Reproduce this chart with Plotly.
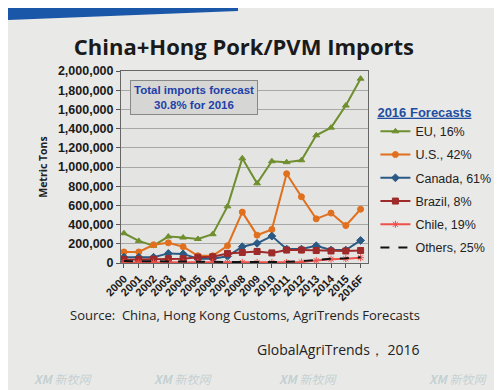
import plotly.graph_objects as go

years = ["2000", "2001", "2002", "2003", "2004", "2005", "2006", "2007", "2008",
         "2009", "2010", "2011", "2012", "2013", "2014", "2015", "2016F"]
eu = [310000, 230000, 180000, 275000, 265000, 250000, 300000, 590000, 1090000,
      830000, 1060000, 1050000, 1070000, 1330000, 1410000, 1640000, 1920000]
us = [115000, 115000, 190000, 210000, 170000, 75000, 75000, 180000, 530000,
      290000, 350000, 930000, 690000, 460000, 520000, 390000, 560000]
canada = [60000, 60000, 60000, 100000, 95000, 45000, 45000, 70000, 170000,
          205000, 280000, 145000, 145000, 180000, 135000, 135000, 235000]
brazil = [35000, 38000, 40000, 45000, 45000, 60000, 65000, 100000, 110000,
          120000, 105000, 135000, 135000, 130000, 125000, 125000, 130000]
chile = [5000, 5000, 5000, 5000, 5000, 5000, 5000, 5000, 5000,
         5000, 5000, 5000, 10000, 25000, 40000, 45000, 55000]
others = [20000, 18000, 15000, 15000, 15000, 12000, 12000, 12000, 10000,
          10000, 10000, 12000, 20000, 35000, 45000, 50000, 60000]

series = [
    ("EU, 16%", eu, "#6f8f2f", "triangle-up", "solid", 6),
    ("U.S., 42%", us, "#e0701e", "circle", "solid", 6),
    ("Canada, 61%", canada, "#2a5a84", "diamond", "solid", 6),
    ("Brazil, 8%", brazil, "#9e2a2a", "square", "solid", 6),
    ("Chile, 19%", chile, "#f0504a", "asterisk-open", "solid", 6),
    ("Others, 25%", others, "#111111", None, "dash", 0),
]

fig = go.Figure()
for i, (name, vals, col, sym, dash, ms) in enumerate(series):
    if sym:
        fig.add_trace(go.Scatter(x=years, y=vals, name=name, mode="lines+markers",
                                 legendgroup="g%d" % i,
                                 line=dict(color=col, width=2, dash=dash),
                                 marker=dict(symbol=sym, size=ms, color=col,
                                             line=dict(color=col, width=1))))
    else:
        fig.add_trace(go.Scatter(x=years, y=vals, name=name, mode="lines",
                                 legendgroup="g%d" % i,
                                 line=dict(color=col, width=2, dash=dash)))

font_main = "Open Sans, Liberation Sans, sans-serif"

fig.update_layout(
    width=502, height=390,
    margin=dict(l=113, r=142, t=63, b=135),
    paper_bgcolor="#e9e9e7",
    plot_bgcolor="#e4e4e2",
    font=dict(family=font_main, color="#222222"),
    title=dict(text="<b>China+Hong Pork/PVM Imports</b>", x=0.47, xanchor="center",
               y=0.9, yanchor="middle", font=dict(size=22, color="#1a1a1a")),
    showlegend=True,
    legend=dict(x=1.03, xanchor="left", y=0.85, yanchor="top",
                bgcolor="rgba(0,0,0,0)", font=dict(size=12.5, color="#222222",
                                                     family="Liberation Sans, sans-serif"),
                tracegroupgap=4, itemwidth=30,
                title=dict(text="<b><u>2016 Forecasts</u></b>",
                           font=dict(size=13, color="#1f4ea0"))),
    xaxis=dict(type="category", tickangle=-45, showgrid=False, range=[-0.2, 16.5],
               ticks="outside", ticklen=4, tickcolor="#555",
               showline=True, linecolor="#666", linewidth=1, mirror=True,
               tickfont=dict(size=11, color="#1a1a1a", family="Liberation Sans, sans-serif"),
               tickprefix="<b>", ticksuffix="</b>"),
    yaxis=dict(range=[0, 2000000], dtick=200000, tickformat=",d",
               showgrid=True, gridcolor="#a8a8a8", gridwidth=1,
               ticks="outside", ticklen=4, tickcolor="#555",
               showline=True, linecolor="#666", linewidth=1, mirror=True,
               zeroline=False,
               tickfont=dict(size=12.5, color="#1a1a1a", family="Liberation Sans, sans-serif"),
               tickprefix="<b>", ticksuffix="</b>",
               title=dict(text="<b>Metric Tons</b>", standoff=8,
                          font=dict(size=10.5, color="#222"))),
)

fig.add_annotation(xref="paper", yref="paper", x=0.036, y=0.955,
                   xanchor="left", yanchor="top",
                   text="<b>Total imports forecast<br>30.8% for 2016</b>",
                   showarrow=False, font=dict(size=11.5, color="#1f3fa8",
                                              family="Liberation Sans, sans-serif"),
                   bgcolor="#d6d6d4", bordercolor="#888", borderwidth=1, borderpad=3)

fig.add_annotation(xref="paper", yref="paper", x=0.5, y=-0.33, xanchor="center",
                   text="Source:  China, Hong Kong Customs, AgriTrends Forecasts",
                   showarrow=False, font=dict(size=13, color="#222", family=font_main))
fig.add_annotation(xref="paper", yref="paper", x=1.22, y=-0.51, xanchor="right",
                   text="GlobalAgriTrends\uff0c 2016",
                   showarrow=False, font=dict(size=14, color="#222", family=font_main))

# faint watermarks (kept below the footer text)
for wx in [55, 175, 300, 450]:
    fig.add_annotation(xref="paper", yref="paper",
                       x=(wx - 113) / 247, y=(390 - 370 - 135) / 192,
                       xanchor="center", yanchor="middle", showarrow=False,
                       text="<i><b>XM</b> 新牧网</i>",
                       font=dict(size=12, color="rgba(120,160,170,0.35)",
                                 family="Noto Sans CJK SC"))

# slide header band
fig.add_shape(type="path", xref="paper", yref="paper",
              path="M %f %f L %f %f L %f %f L %f %f Z" % (
                  -113 / 247, (390 - 135) / 192,
                  (230 - 113) / 247, (390 - 135) / 192,
                  (230 - 113) / 247, (390 - 135 - 3) / 192,
                  -113 / 247, (390 - 135 - 12) / 192),
              fillcolor="#1a57a8", line=dict(width=0), layer="above")

fig.write_html("out.html")
